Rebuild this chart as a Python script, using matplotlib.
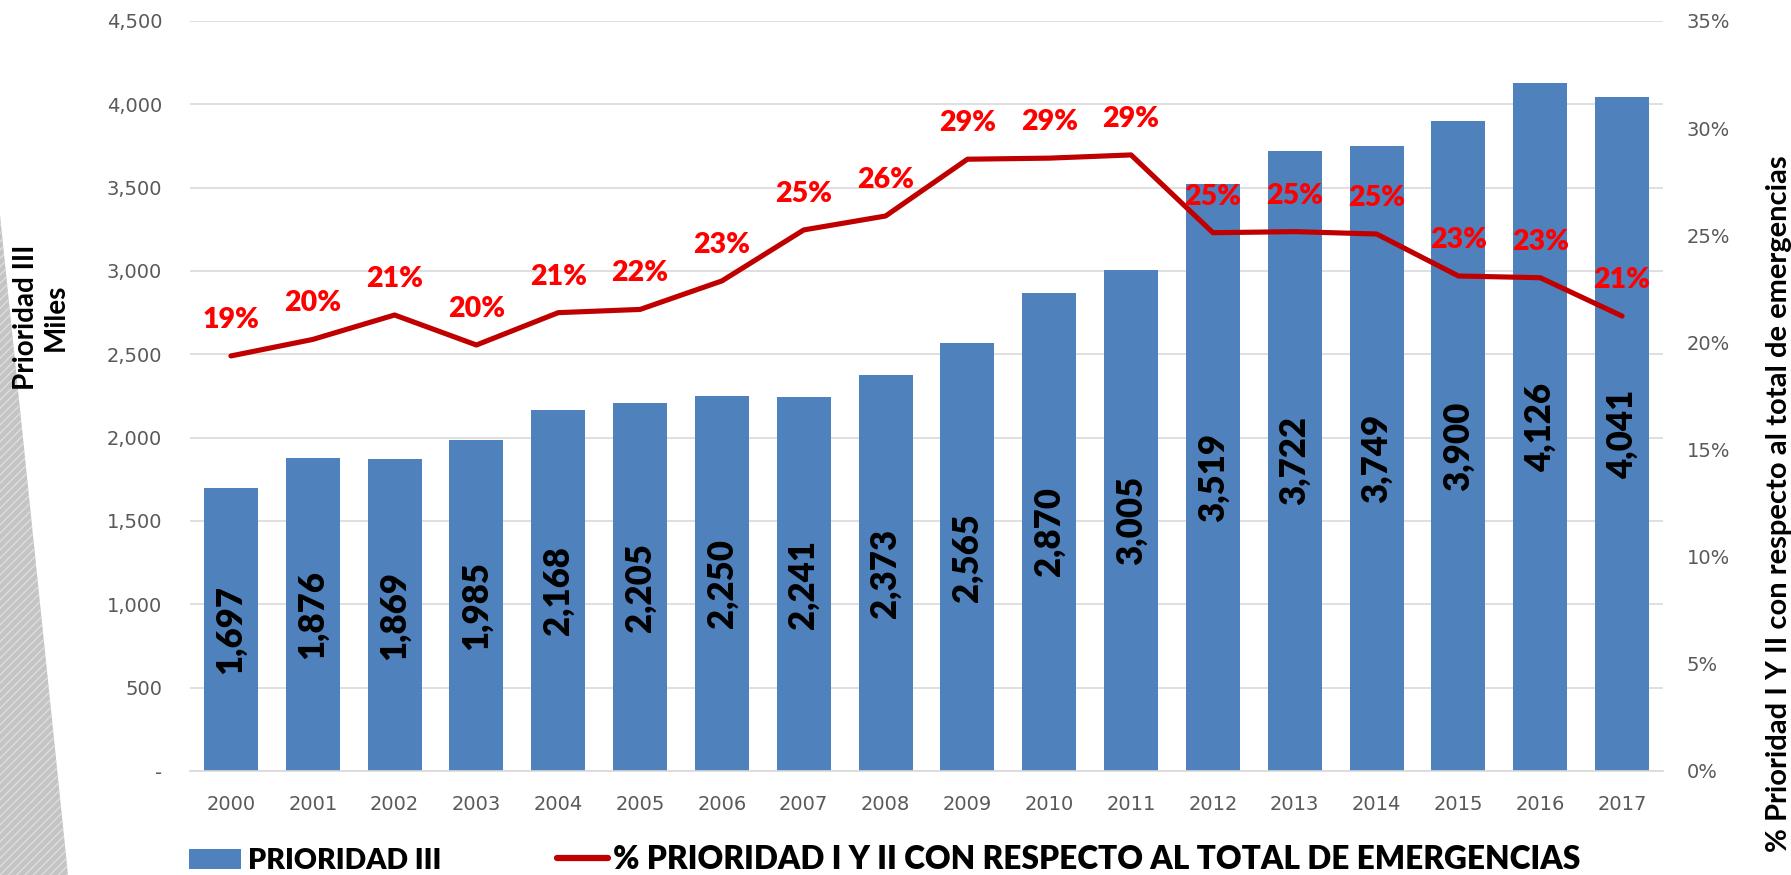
import matplotlib
matplotlib.use('Agg')
import matplotlib.pyplot as plt
from matplotlib.patches import Polygon, Rectangle
from matplotlib.lines import Line2D
from matplotlib.ticker import FuncFormatter, MultipleLocator

years = [str(y) for y in range(2000, 2018)]
prioridad_iii = [1697, 1876, 1869, 1985, 2168, 2205, 2250, 2241, 2373, 2565,
                 2870, 3005, 3519, 3722, 3749, 3900, 4126, 4041]
pct_i_ii = [19.37, 20.14, 21.28, 19.88, 21.39, 21.54, 22.87, 25.25, 25.90, 28.55,
            28.60, 28.75, 25.12, 25.17, 25.06, 23.10, 23.02, 21.23]
bar_name = 'PRIORIDAD III'
line_name = '% PRIORIDAD I Y II CON RESPECTO AL TOTAL DE EMERGENCIAS'
left_title = 'Prioridad III\nMiles'
right_title = '% Prioridad I Y II con respecto al total de emergencias'

BAR_C = '#4F81BD'
LINE_C = '#C00000'
LBL_RED = '#FF0000'
GRID_C = '#D9D9D9'
TICK_C = '#595959'
FONT_B = 'Lato'

W, H = 1791, 875
fig = plt.figure(figsize=(W / 100, H / 100), dpi=100)
fig.patch.set_facecolor('white')

# decorative hatched band at left edge
band = Polygon([(0, 1 - 215 / H), (68 / W, 0), (0, 0)], closed=True,
               transform=fig.transFigure, facecolor='#C4C4C4',
               edgecolor='#DDDDDD', hatch='////', lw=0, zorder=0)
fig.add_artist(band)

ax = fig.add_axes([190 / W, 1 - 771 / H, (1663 - 190) / W, (771 - 21) / H])
ax.set_facecolor('none')
x = list(range(len(years)))

ax.bar(x, prioridad_iii, width=0.66, color=BAR_C, zorder=2)
ax.set_xlim(-0.5, len(years) - 0.5)
ax.set_ylim(0, 4500)
ax.yaxis.set_major_locator(MultipleLocator(500))
ax.yaxis.set_major_formatter(FuncFormatter(lambda v, p: '-' if v == 0 else f'{v:,.0f}'))
ax.set_xticks(x)
ax.set_xticklabels(years)
ax.yaxis.grid(True, color=GRID_C, lw=1.2, zorder=0)
ax.set_axisbelow(True)
for s in ['top', 'left', 'right']:
    ax.spines[s].set_visible(False)
ax.spines['bottom'].set_color(GRID_C)
ax.spines['bottom'].set_linewidth(1.2)
ax.tick_params(axis='y', length=0, pad=20, labelsize=14, labelcolor=TICK_C)
ax.tick_params(axis='x', length=0, pad=17, labelsize=14, labelcolor=TICK_C)
for lab in ax.get_xticklabels() + ax.get_yticklabels():
    lab.set_fontfamily('DejaVu Sans')

for xi, v in zip(x, prioridad_iii):
    ax.text(xi, v / 2, f'{v:,}', rotation=90, ha='center', va='center',
            fontsize=25, fontweight='heavy', family=FONT_B, color='black', zorder=3)

ax2 = ax.twinx()
ax2.set_ylim(0, 35)
ax2.yaxis.set_major_locator(MultipleLocator(5))
ax2.yaxis.set_major_formatter(FuncFormatter(lambda v, p: f'{v:.0f}%'))
for s in ['top', 'left', 'right', 'bottom']:
    ax2.spines[s].set_visible(False)
ax2.tick_params(axis='y', length=0, pad=17, labelsize=14, labelcolor=TICK_C)
for lab in ax2.get_yticklabels():
    lab.set_fontfamily('DejaVu Sans')

ax2.plot(x, pct_i_ii, color=LINE_C, lw=3.7, solid_capstyle='round', zorder=4)
for xi, v in zip(x, pct_i_ii):
    ax2.annotate(f'{round(v)}%', (xi, v), xytext=(0, 26), textcoords='offset points',
                 ha='center', va='center', fontsize=20.5, fontweight='heavy',
                 family=FONT_B, color=LBL_RED, zorder=5)

# axis titles
fig.text(41 / W, 1 - 317 / H, left_title, rotation=90, ha='center', va='center',
         multialignment='center', fontsize=20, fontweight='bold', family=FONT_B,
         linespacing=1.15)
fig.text(1779 / W, 1 - 155 / H, right_title, rotation=90, ha='center', va='top',
         fontsize=21, fontweight='bold', family=FONT_B)

# legend
fig.add_artist(Rectangle((189 / W, 1 - 869 / H), 52 / W, 20 / H,
                         transform=fig.transFigure, facecolor=BAR_C, lw=0))
fig.text(248 / W, 1 - 869 / H, bar_name, ha='left', va='baseline',
         fontsize=20.5, fontweight='heavy', family=FONT_B)
fig.add_artist(Line2D([557 / W, 608 / W], [1 - 858 / H, 1 - 858 / H],
                      transform=fig.transFigure, color=LINE_C, lw=4.5,
                      solid_capstyle='round'))
fig.text(613 / W, 1 - 869 / H, line_name, ha='left', va='baseline',
         fontsize=22.8, fontweight='heavy', family=FONT_B)

fig.savefig('out.png', dpi=100, facecolor='white')
